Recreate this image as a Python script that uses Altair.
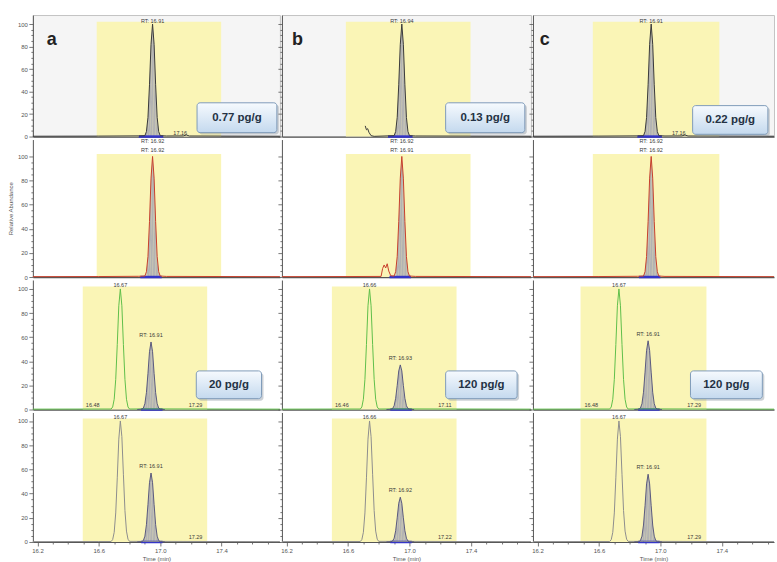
import altair as alt
import pandas as pd

# ---------------- values ----------------
PANEL_LETTERS = ["a", "b", "c"]
CONC_ROW1 = ["0.77 pg/g", "0.13 pg/g", "0.22 pg/g"]
CONC_ROW3 = ["20 pg/g", "120 pg/g", "120 pg/g"]

X_TICKS = [16.2, 16.3, 16.4, 16.5, 16.6, 16.7, 16.8, 16.9, 17.0,
           17.1, 17.2, 17.3, 17.4, 17.5, 17.6, 17.7]
Y_TICKS = [0, 5, 10, 15, 20, 25, 30, 35, 40, 45, 50, 55, 60, 65, 70,
           75, 80, 85, 90, 95, 100]

# highlighted retention-time windows (min), per row then column
WIN_START = [[16.586, 16.586, 16.56], [16.586, 16.586, 16.56],
             [16.495, 16.495, 16.48], [16.495, 16.495, 16.48]]
WIN_END = [[17.397, 17.397, 17.384], [17.397, 17.397, 17.384],
           [17.306, 17.306, 17.30], [17.306, 17.306, 17.30]]

# integration baseline (blue) limits
INT_START = [[16.86, 16.86, 16.85], [16.87, 16.87, 16.86],
             [16.875, 16.875, 16.855], [16.875, 16.875, 16.855]]
INT_END = [[17.02, 17.02, 17.01], [17.01, 17.01, 17.00],
           [17.015, 17.015, 16.995], [17.015, 17.015, 16.995]]

# ---- row 1: quantifier ion (dark trace) ----
R1_T_A = [16.17, 16.60, 16.86, 16.90, 16.91, 16.92, 16.93, 16.94, 16.95, 16.96,
          16.97, 16.98, 16.99, 17.00, 17.04, 17.15, 17.17, 17.19, 17.78]
R1_Y_A = [0.3, 0.4, 0.6, 0.8, 4.4, 17, 46, 82, 100, 82,
          46, 17, 4.4, 0.8, 0.5, 0.6, 1.4, 0.5, 0.3]
R1_T_B = [16.712, 16.72, 16.728, 16.736, 16.75, 16.77, 16.86, 16.90, 16.91, 16.92,
          16.93, 16.94, 16.95, 16.96, 16.97, 16.98, 16.99, 17.00, 17.04, 17.79]
R1_Y_B = [9.5, 6.0, 7.0, 3.8, 0.8, 0.2, 0.6, 0.8, 4.4, 17,
          46, 82, 100, 82, 46, 17, 4.4, 0.8, 0.5, 0.3]
R1_T_C = [16.17, 16.60, 16.85, 16.89, 16.90, 16.91, 16.92, 16.93, 16.94, 16.95,
          16.96, 16.97, 16.98, 16.99, 17.03, 17.14, 17.16, 17.18, 17.74]
R1_Y_C = [0.3, 0.4, 0.6, 0.8, 4.4, 17, 46, 82, 100, 82,
          46, 17, 4.4, 0.8, 0.5, 0.6, 1.4, 0.5, 0.3]

# ---- row 2: qualifier ion (red trace) ----
R2_T_A = [16.17, 16.60, 16.86, 16.90, 16.91, 16.92, 16.93, 16.94, 16.95, 16.96,
          16.97, 16.98, 16.99, 17.00, 17.04, 17.78]
R2_Y_A = [0.3, 0.4, 0.6, 0.8, 4.4, 17, 46, 82, 100, 82,
          46, 17, 4.4, 0.8, 0.5, 0.3]
R2_T_B = [16.17, 16.60, 16.815, 16.825, 16.835, 16.845, 16.855, 16.865, 16.878,
          16.90, 16.91, 16.92, 16.93, 16.94, 16.95, 16.96, 16.97, 16.98, 16.99, 17.00,
          17.04, 17.79]
R2_Y_B = [0.3, 0.4, 0.5, 7, 10, 7.5, 11, 5, 1,
          0.8, 4.4, 17, 46, 82, 100, 82, 46, 17, 4.4, 0.8,
          0.5, 0.3]
R2_T_C = [16.17, 16.60, 16.85, 16.89, 16.90, 16.91, 16.92, 16.93, 16.94, 16.95,
          16.96, 16.97, 16.98, 16.99, 17.03, 17.74]
R2_Y_C = [0.3, 0.4, 0.6, 0.8, 4.4, 17, 46, 82, 100, 82,
          46, 17, 4.4, 0.8, 0.5, 0.3]

# ---- row 3: labelled standard (green trace) ----
R3_T_A = [16.17, 16.60, 16.68, 16.69, 16.70, 16.71, 16.72, 16.73, 16.74, 16.75,
          16.76, 16.77, 16.78, 16.79, 16.80, 16.90, 17.78]
R3_Y_A = [0.3, 0.4, 0.4, 2.1, 8.5, 25, 54, 86, 100, 86,
          54, 25, 8.5, 2.1, 0.4, 0.5, 0.3]
R3_T_B = [16.17, 16.60, 16.68, 16.69, 16.70, 16.71, 16.72, 16.73, 16.74, 16.75,
          16.76, 16.77, 16.78, 16.79, 16.80, 16.90, 17.79]
R3_Y_B = [0.3, 0.4, 0.4, 2.1, 8.5, 25, 54, 86, 100, 86,
          54, 25, 8.5, 2.1, 0.4, 0.5, 0.3]
R3_T_C = [16.17, 16.60, 16.67, 16.68, 16.69, 16.70, 16.71, 16.72, 16.73, 16.74,
          16.75, 16.76, 16.77, 16.78, 16.79, 16.89, 17.74]
R3_Y_C = [0.3, 0.4, 0.4, 2.1, 8.5, 25, 54, 86, 100, 86,
          54, 25, 8.5, 2.1, 0.4, 0.5, 0.3]

# ---- row 4: labelled standard, second ion (grey trace) ----
R4_T_A = R3_T_A
R4_Y_A = [0.3, 0.4, 0.4, 2.0, 8.0, 24, 53, 85, 100, 87,
          56, 26, 9.0, 2.3, 0.5, 0.5, 0.3]
R4_T_B = R3_T_B
R4_Y_B = [0.3, 0.4, 0.4, 2.0, 8.0, 24, 53, 85, 100, 87,
          56, 26, 9.0, 2.3, 0.5, 0.5, 0.3]
R4_T_C = R3_T_C
R4_Y_C = [0.3, 0.4, 0.4, 2.0, 8.0, 24, 53, 85, 100, 87,
          56, 26, 9.0, 2.3, 0.5, 0.5, 0.3]

# ---- native analyte peaks (grey filled) in rows 3 and 4 ----
PK_T_AB = [16.85, 16.88, 16.89, 16.90, 16.91, 16.92, 16.93, 16.94, 16.95, 16.96,
           16.97, 16.98, 16.99, 17.00, 17.03]
PK_T_C = [16.83, 16.86, 16.87, 16.88, 16.89, 16.90, 16.91, 16.92, 16.93, 16.94,
          16.95, 16.96, 16.97, 16.98, 17.01]
PK3_Y_A = [0, 0.2, 1.2, 4.8, 14, 30, 48, 56, 48, 30, 14, 4.8, 1.2, 0.2, 0]
PK3_Y_B = [0, 0.15, 0.8, 3.1, 9.3, 20, 32, 37, 32, 20, 9.3, 3.1, 0.8, 0.15, 0]
PK3_Y_C = [0, 0.2, 1.2, 4.8, 14.3, 31, 49, 57, 49, 31, 14.3, 4.8, 1.2, 0.2, 0]
PK4_Y_A = [0, 0.2, 1.2, 4.8, 14.3, 31, 49, 57, 49, 31, 14.3, 4.8, 1.2, 0.2, 0]
PK4_Y_B = [0, 0.15, 0.8, 3.1, 9.3, 20, 32, 37, 32, 20, 9.3, 3.1, 0.8, 0.15, 0]
PK4_Y_C = [0, 0.2, 1.2, 4.8, 14, 30, 48, 56, 48, 30, 14, 4.8, 1.2, 0.2, 0]

TRACES = [
    [(R1_T_A, R1_Y_A), (R1_T_B, R1_Y_B), (R1_T_C, R1_Y_C)],
    [(R2_T_A, R2_Y_A), (R2_T_B, R2_Y_B), (R2_T_C, R2_Y_C)],
    [(R3_T_A, R3_Y_A), (R3_T_B, R3_Y_B), (R3_T_C, R3_Y_C)],
    [(R4_T_A, R4_Y_A), (R4_T_B, R4_Y_B), (R4_T_C, R4_Y_C)],
]
PEAKS = {
    2: [(PK_T_AB, PK3_Y_A), (PK_T_AB, PK3_Y_B), (PK_T_C, PK3_Y_C)],
    3: [(PK_T_AB, PK4_Y_A), (PK_T_AB, PK4_Y_B), (PK_T_C, PK4_Y_C)],
}

# peak annotations: (text, time, intensity)
LABELS = [
    [[("RT: 16.91", 16.95, 103), ("17.16", 17.13, 3.5), ("RT: 16.92", 16.95, -4)],
     [("RT: 16.94", 16.95, 103), ("RT: 16.92", 16.95, -4)],
     [("RT: 16.91", 16.94, 103), ("17.16", 17.12, 3.5), ("RT: 16.92", 16.94, -4)]],
    [[("RT: 16.92", 16.95, 105)],
     [("RT: 16.91", 16.95, 105)],
     [("RT: 16.92", 16.94, 105)]],
    [[("16.67", 16.74, 103.5), ("RT: 16.91", 16.94, 62), ("16.48", 16.56, 4), ("17.29", 17.23, 4)],
     [("16.66", 16.74, 103.5), ("RT: 16.93", 16.94, 43), ("16.46", 16.56, 4), ("17.11", 17.23, 4)],
     [("16.67", 16.73, 103.5), ("RT: 16.91", 16.92, 63), ("16.48", 16.55, 4), ("17.29", 17.22, 4)]],
    [[("16.67", 16.74, 103.5), ("RT: 16.91", 16.94, 63), ("17.29", 17.23, 4)],
     [("16.66", 16.74, 103.5), ("RT: 16.92", 16.94, 43), ("17.22", 17.23, 4)],
     [("16.67", 16.73, 103.5), ("RT: 16.91", 16.92, 62), ("17.29", 17.22, 4)]],
]

# concentration boxes (time / intensity corners)
BOX_T1 = {0: [17.24, 17.235, 17.21], 2: [17.235, 17.235, 17.196]}
BOX_T2 = {0: [17.76, 17.75, 17.70], 2: [17.66, 17.70, 17.664]}
BOX_V1 = {0: [3.5, 3.5, 2.0], 2: [9, 9, 9]}
BOX_V2 = {0: [30, 30, 27.5], 2: [32, 32, 32]}
BOX_TEXT = {0: CONC_ROW1, 2: CONC_ROW3}
LETTER_T = [16.26, 16.235, 16.215]
LETTER_V = 81
WIN_TOP = 102

# ---------------- layout & style ----------------
X_START = 16.17
X_END = [17.78, 17.79, 17.74]
COL_W = [248, 250, 242]
ROW_H = [122, 138, 130, 130]
Y_TOP = [108, 114, 107.4, 107]

FONT = "Liberation Sans"
YELLOW = "#faf5b6"
GREY_FILL = "#b3b3b3"
BLUE = "#3434c8"
LINE_COL = ["#3a3a3a", "#c8402c", "#5fbf4a", "#8e8e8e"]
OUTLINE = "#4c4c78"

BOX_FILL = alt.LinearGradient(
    gradient="linear",
    stops=[alt.GradientStop(color="#f6fafe", offset=0),
           alt.GradientStop(color="#c4d9ee", offset=1)],
    x1=0, x2=0, y1=0, y2=1)


def panel(r, c):
    xs = alt.Scale(domain=[X_START, X_END[c]], nice=False, zero=False)
    ys = alt.Scale(domain=[0, Y_TOP[r]], nice=False, zero=False)
    yaxis = alt.Axis(
        values=Y_TICKS, labels=(c == 0), labelOverlap=False,
        labelExpr="datum.value % 20 === 0 ? datum.label : ''",
        tickSize={"condition": {"test": "datum.value % 20 === 0", "value": 4}, "value": 2},
        title=("Relative Abundance" if (r == 1 and c == 0) else ""),
        domainWidth=1, tickWidth=0.8)
    if r == 3:
        xaxis = alt.Axis(
            values=X_TICKS, labelOverlap=False, labelFlush=False,
            labelExpr="round(datum.value*10) % 4 == 2 ? format(datum.value, '.1f') : ''",
            tickSize={"condition": {"test": "round(datum.value*10) % 4 == 2", "value": 4}, "value": 2},
            title="Time (min)", domainWidth=1.2, tickWidth=0.8, titlePadding=2)
    else:
        xaxis = alt.Axis(labels=False, ticks=False, title="", domainWidth=1.3,
                         domainColor="#555555")

    def X(f):
        return alt.X(f, type="quantitative", scale=xs, axis=xaxis)

    def Y(f):
        return alt.Y(f, type="quantitative", scale=ys, axis=yaxis)

    layers = []
    win = pd.DataFrame({"t": [WIN_START[r][c]], "t2": [WIN_END[r][c]], "v": [0], "v2": [WIN_TOP]})
    layers.append(alt.Chart(win).mark_rect(color=YELLOW).encode(
        x=X("t"), x2=alt.X2("t2"), y=Y("v"), y2=alt.Y2("v2")))

    tt, yy = TRACES[r][c]
    trace = pd.DataFrame({"t": tt, "v": yy, "i": list(range(len(tt)))})

    if r in PEAKS:
        pt, py = PEAKS[r][c]
        pk = pd.DataFrame({"t": pt, "v": py, "i": list(range(len(pt)))})
    else:
        pk = trace[(trace.t >= INT_START[r][c] + 0.03) & (trace.t <= INT_END[r][c] - 0.01)]

    layers.append(alt.Chart(pk).mark_area(color=GREY_FILL).encode(
        x=X("t"), y=Y("v"), order=alt.Order("i:Q")))

    base = pd.DataFrame({"t": [INT_START[r][c]], "t2": [INT_END[r][c]], "v": [0]})
    layers.append(alt.Chart(base).mark_rule(color=BLUE, strokeWidth=2.5).encode(
        x=X("t"), x2=alt.X2("t2"), y=Y("v")))

    layers.append(alt.Chart(trace).mark_line(color=LINE_COL[r], strokeWidth=1.0).encode(
        x=X("t"), y=Y("v"), order=alt.Order("i:Q")))

    if r in PEAKS:
        layers.append(alt.Chart(pk).mark_line(color=OUTLINE, strokeWidth=0.9).encode(
            x=X("t"), y=Y("v"), order=alt.Order("i:Q")))

    lab = LABELS[r][c]
    ldf = pd.DataFrame({"txt": [l[0] for l in lab], "t": [l[1] for l in lab], "v": [l[2] for l in lab]})
    layers.append(alt.Chart(ldf).mark_text(font=FONT, fontSize=5.5, color="#3a3a3a",
                                           baseline="middle").encode(
        x=X("t"), y=Y("v"), text=alt.Text("txt:N")))

    if r in BOX_T1:
        bdf = pd.DataFrame({"t": [BOX_T1[r][c]], "t2": [BOX_T2[r][c]],
                            "v": [BOX_V1[r][c]], "v2": [BOX_V2[r][c]],
                            "tm": [(BOX_T1[r][c] + BOX_T2[r][c]) / 2],
                            "vm": [(BOX_V1[r][c] + BOX_V2[r][c]) / 2],
                            "txt": [BOX_TEXT[r][c]]})
        layers.append(alt.Chart(bdf).mark_rect(color="#8d98a4", opacity=0.45, cornerRadius=3,
                                               xOffset=2, x2Offset=2, yOffset=2, y2Offset=2).encode(
            x=X("t"), x2=alt.X2("t2"), y=Y("v"), y2=alt.Y2("v2")))
        layers.append(alt.Chart(bdf).mark_rect(fill=BOX_FILL, stroke="#7f9cba", strokeWidth=1,
                                               cornerRadius=3).encode(
            x=X("t"), x2=alt.X2("t2"), y=Y("v"), y2=alt.Y2("v2")))
        layers.append(alt.Chart(bdf).mark_text(font=FONT, fontSize=11.5, fontWeight="bold",
                                               color="#243244", baseline="middle").encode(
            x=X("tm"), y=Y("vm"), text=alt.Text("txt:N")))

    if r == 0:
        let = pd.DataFrame({"t": [LETTER_T[c]], "v": [LETTER_V], "txt": [PANEL_LETTERS[c]]})
        layers.append(alt.Chart(let).mark_text(font=FONT, fontSize=18, fontWeight="bold",
                                               color="#222222", align="left",
                                               baseline="alphabetic").encode(
            x=X("t"), y=Y("v"), text=alt.Text("txt:N")))

    ch = alt.layer(*layers).properties(width=COL_W[c], height=ROW_H[r])
    if r == 0:
        ch = ch.properties(view=alt.ViewBackground(fill="#f5f5f5", stroke="#c4c4c4", strokeWidth=1))
    return ch


panels = [panel(r, c) for r in range(4) for c in range(3)]

chart = alt.concat(*panels, columns=3, spacing={"row": 3, "column": 2},
                   bounds="flush", align="each").properties(
    padding={"left": 6, "top": 13, "right": 0, "bottom": 0},
    background="white",
).configure_view(stroke="transparent").configure_axis(
    grid=False, labelFont=FONT, titleFont=FONT, labelFontSize=6, titleFontSize=6,
    labelColor="#555555", titleColor="#555555", domainColor="#555555",
    tickColor="#555555", titleFontWeight="normal", labelPadding=1.5, titlePadding=4)

chart.save("out.html", embed_options={"renderer": "svg", "actions": False})
